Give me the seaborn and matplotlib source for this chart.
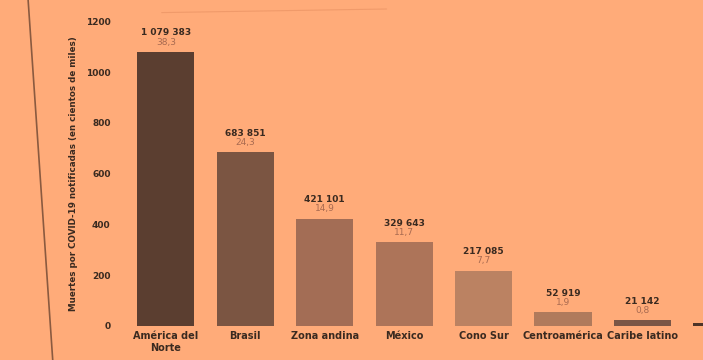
import matplotlib
matplotlib.use("Agg")
import matplotlib.pyplot as plt
import seaborn as sns
import pandas as pd

# datos (muertes por COVID-19 notificadas)
regiones = ["América del\nNorte", "Brasil", "Zona andina", "México", "Cono Sur",
            "Centroamérica", "Caribe latino", "Caribe no latino"]
muertes = [1079383, 683851, 421101, 329643, 217085, 52919, 21142, 11000]
porcentaje = ["38,3", "24,3", "14,9", "11,7", "7,7", "1,9", "0,8", "0,4"]
colores = ["#5b3e30", "#7b5542", "#a36d55", "#ad7459", "#bb8262",
           "#b07a5c", "#7a5646", "#4e3428"]

df = pd.DataFrame({"region": regiones, "miles": [m / 1000 for m in muertes]})

bg = "#ffab79"
sns.set_style("white")
plt.rcParams["font.family"] = ["DejaVu Sans"]

fig = plt.figure(figsize=(7.03, 3.6), dpi=100, facecolor=bg)
ax = fig.add_axes([0.185, 0.095, 1.0, 0.845], facecolor=bg)

sns.barplot(data=df, x="region", y="miles", hue="region", palette=colores,
            legend=False, width=0.72, ax=ax, saturation=1, linewidth=0)

ax.set_ylim(0, 1200)
ax.set_xlim(-0.45, 8.4)
ax.set_yticks(range(0, 1201, 200))
ax.set_yticklabels([str(v) for v in range(0, 1201, 200)],
                   fontsize=6.5, fontweight="bold", color="#3a2a20")
ax.tick_params(axis="both", length=0, pad=14)
ax.tick_params(axis="x", pad=4)
# la última región queda cortada por el borde de la foto: solo se ve la barra
visibles = 7
ax.set_xticks(range(len(regiones)))
ax.set_xticklabels(regiones[:visibles] + [""] * (len(regiones) - visibles),
                   fontsize=7, fontweight="bold", color="#3a2a20")
ax.set_xlabel("")
ax.set_ylabel("Muertes por COVID-19 notificadas (en cientos de miles)",
              fontsize=6.3, fontweight="bold", color="#3a2a20", labelpad=6)
sns.despine(ax=ax, left=True, bottom=True)

for i, (m, p) in enumerate(zip(muertes[:visibles], porcentaje[:visibles])):
    h = m / 1000
    ax.text(i, h + 58, f"{m:,}".replace(",", " "), ha="center", va="bottom",
            fontsize=6.5, fontweight="semibold", color="#3a2a20")
    ax.text(i, h + 22, p, ha="center", va="bottom", fontsize=6.5, color="#a86a50")

# borde de la página y línea superior
fig.add_artist(plt.Line2D([0.04, 0.075], [1.0, 0.0], color="#8a5a40", lw=1.2))
fig.add_artist(plt.Line2D([0.23, 0.55], [0.965, 0.975], color="#f09a6a", lw=0.8))

fig.savefig("out.png", dpi=100, facecolor=bg)
